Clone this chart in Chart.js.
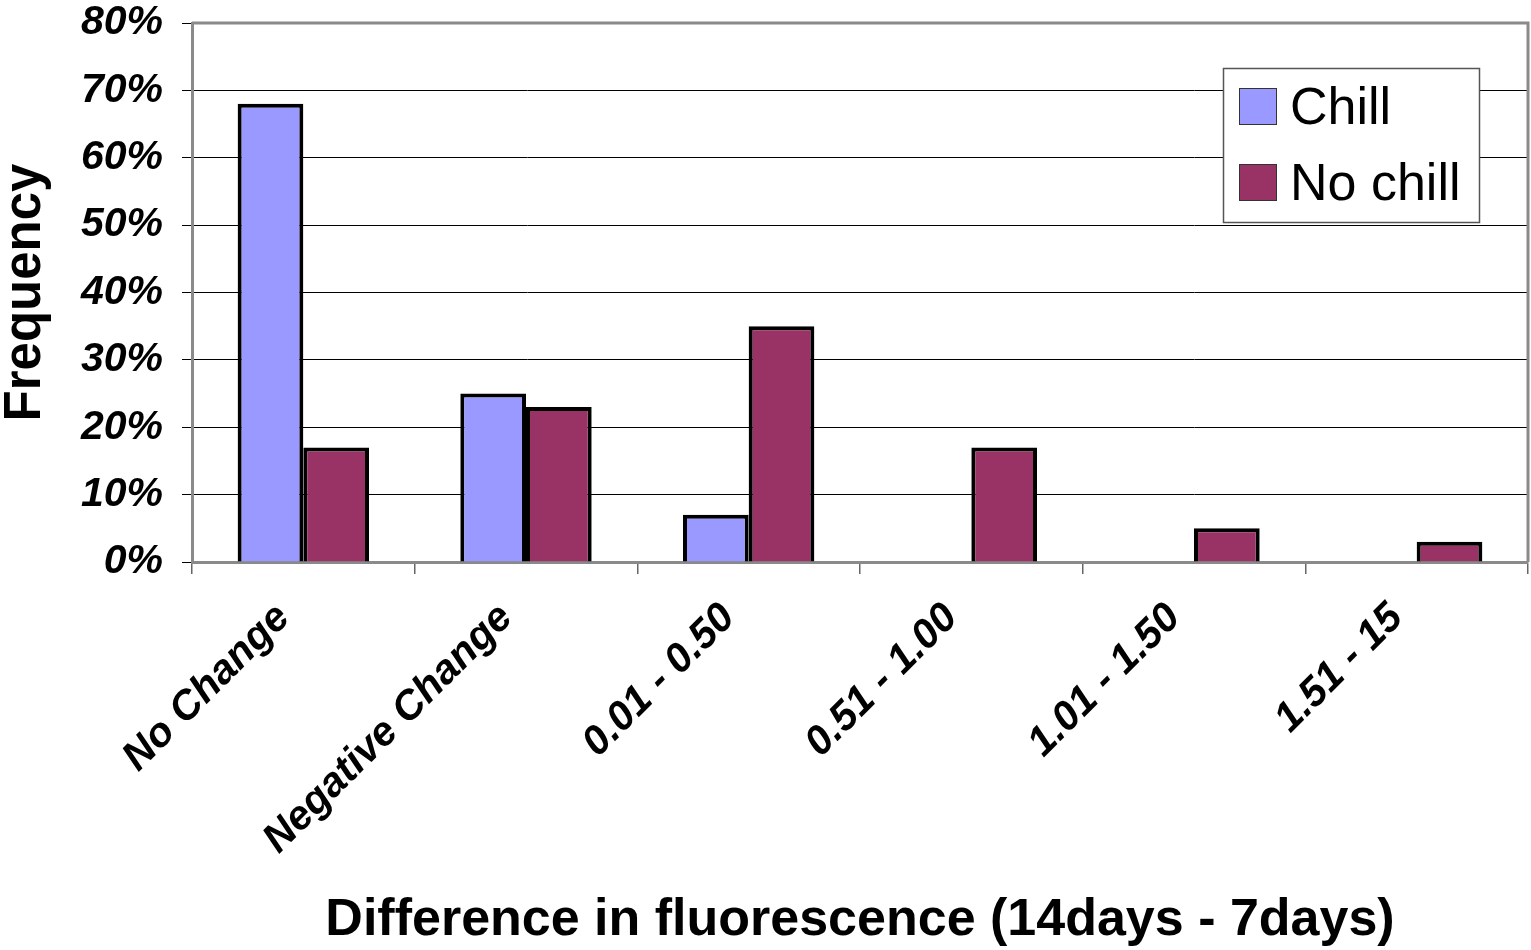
<!DOCTYPE html>
<html>
<head>
<meta charset="utf-8">
<script src="https://cdn.jsdelivr.net/npm/chart.js@4.4.0/dist/chart.umd.min.js"></script>
<style>
  html, body { margin: 0; padding: 0; background: #fff; }
  #wrap { width: 1531px; height: 950px; }
</style>
</head>
<body>
<div id="wrap"><canvas id="chart" width="1531" height="950"></canvas></div>
<script>
// categorias do eixo x
const categories = ["No Change", "Negative Change", "0.01 - 0.50", "0.51 - 1.00", "1.01 - 1.50", "1.51 - 15"]
// frequencias em %
const chillValues = [68, 25, 7, 0, 0, 0]
const noChillValues = [17, 23, 35, 17, 5, 3]
const yTicks = [0, 10, 20, 30, 40, 50, 60, 70, 80]

const FONT = "'Liberation Sans', Arial, Helvetica, sans-serif"

// moldura cinza em volta da area do grafico
const frame = {
  id: "frame",
  afterDatasetsDraw(chart) {
    const { ctx, chartArea: a } = chart
    ctx.save()
    ctx.strokeStyle = "#8a8a8a"
    ctx.lineWidth = 3
    ctx.beginPath()
    ctx.moveTo(a.left, a.top)
    ctx.lineTo(a.right, a.top)
    ctx.lineTo(a.right, a.bottom)
    ctx.stroke()
    ctx.restore()
  }
}

// legenda desenhada a mao dentro do grafico
const boxLegend = {
  id: "boxLegend",
  afterDraw(chart) {
    const ctx = chart.ctx
    ctx.save()
    ctx.fillStyle = "#fff"
    ctx.fillRect(1223, 68, 256, 154)
    ctx.strokeStyle = "#555"
    ctx.lineWidth = 1.5
    ctx.strokeRect(1223.5, 68.5, 256, 154)
    ctx.font = "52px " + FONT
    ctx.textBaseline = "middle"
    chart.data.datasets.forEach((ds, i) => {
      const y = 88 + i * 76
      ctx.fillStyle = ds.backgroundColor
      ctx.fillRect(1239, y, 38, 37)
      ctx.strokeStyle = "#333"
      ctx.lineWidth = 1
      ctx.strokeRect(1239.5, y + 0.5, 37, 36)
      ctx.fillStyle = "#000"
      ctx.fillText(ds.label, 1290, y + 22)
    })
    ctx.restore()
  }
}

new Chart(document.getElementById("chart"), {
  type: "bar",
  data: {
    labels: categories,
    datasets: [
      {
        label: "Chill",
        data: chillValues,
        backgroundColor: "#9999FF",
        borderColor: "#000",
        borderWidth: 4,
        borderSkipped: "start",
      },
      {
        label: "No chill",
        data: noChillValues,
        backgroundColor: "#993366",
        borderColor: "#000",
        borderWidth: 4,
        borderSkipped: "start",
      },
    ],
  },
  options: {
    responsive: false,
    animation: false,
    events: [],
    layout: { padding: { top: 23, right: 3, left: 0, bottom: 0 } },
    datasets: { bar: { categoryPercentage: 0.59, barPercentage: 1 } },
    plugins: { legend: { display: false }, tooltip: { enabled: false } },
    scales: {
      x: {
        offset: true,
        grid: { offset: true, drawOnChartArea: false, tickLength: 12, color: "#666", lineWidth: 1.5 },
        border: { color: "#8a8a8a", width: 3 },
        ticks: {
          color: "#000",
          font: { family: FONT, size: 41, weight: "bold", style: "italic" },
          maxRotation: 45,
          minRotation: 45,
          padding: 20,
          labelOffset: -20,
        },
        title: {
          display: true,
          text: "Difference in fluorescence (14days - 7days)",
          color: "#000",
          font: { family: FONT, size: 52, weight: "bold", lineHeight: 1 },
          padding: { top: 0, bottom: 3 },
        },
        afterFit(scale) {
          scale.height = 388
          scale.paddingLeft = 0
          scale.paddingRight = 0
        },
      },
      y: {
        min: 0,
        max: 80,
        afterBuildTicks(scale) { scale.ticks = yTicks.map((v) => ({ value: v })) },
        grid: { color: "#000", lineWidth: 1, tickLength: 10 },
        border: { color: "#8a8a8a", width: 3 },
        ticks: {
          color: "#000",
          font: { family: FONT, size: 41, weight: "bold", style: "italic" },
          padding: 19,
          callback: (v) => v + "%",
        },
        title: {
          display: true,
          text: "Frequency",
          color: "#000",
          font: { family: FONT, size: 51, weight: "bold", lineHeight: 1 },
          padding: { top: 0, bottom: 0 },
        },
        afterFit(scale) {
          scale.width = 192
          scale.paddingTop = 0
          scale.paddingBottom = 0
        },
      },
    },
  },
  plugins: [frame, boxLegend],
})
</script>
</body>
</html>
